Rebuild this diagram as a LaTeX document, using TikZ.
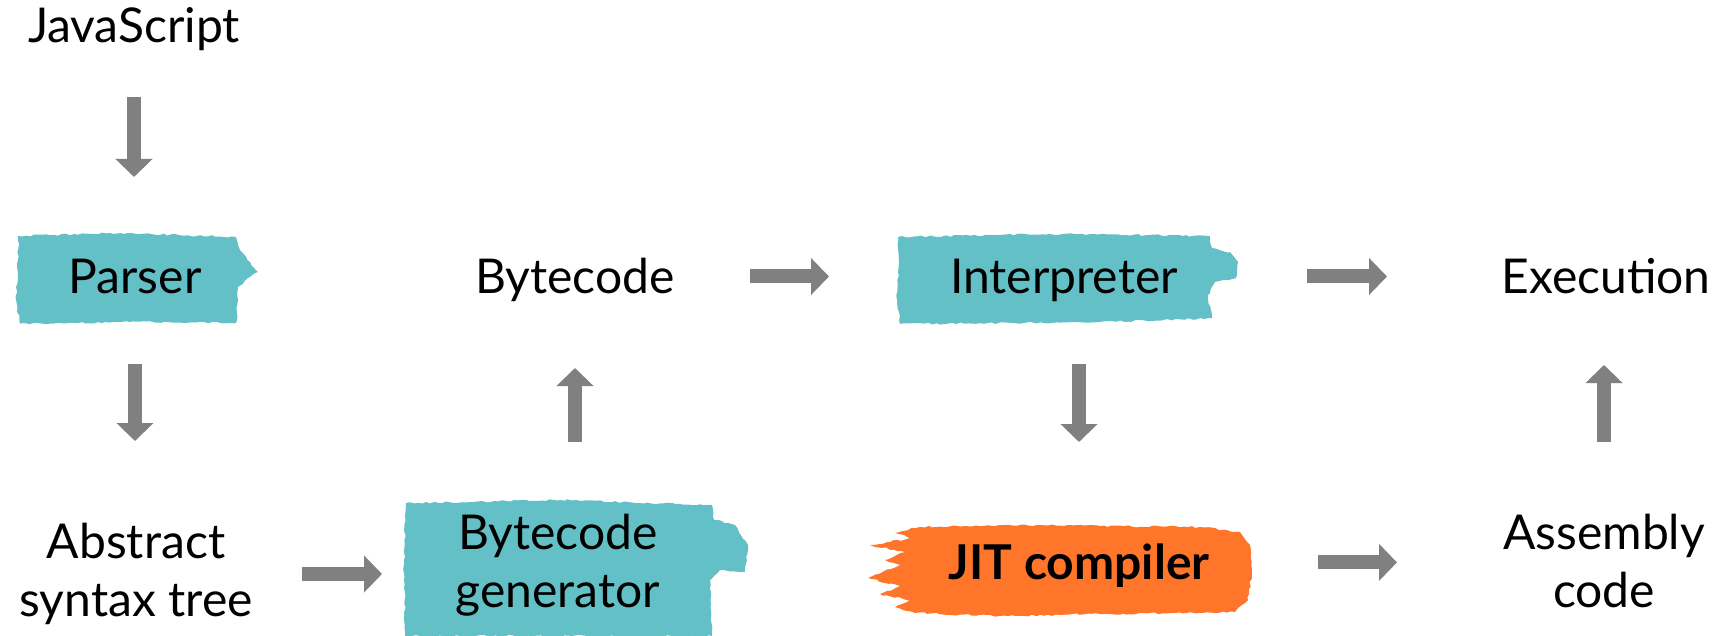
\documentclass[tikz,border=0pt]{standalone}
\usepackage{fontspec}
\setmainfont{Lato}
\usetikzlibrary{arrows.meta,decorations.pathmorphing,positioning}
\definecolor{brushteal}{RGB}{99,192,198}
\definecolor{brushorange}{RGB}{255,117,42}
\definecolor{arrowgrey}{RGB}{128,128,128}

\begin{document}
\begin{tikzpicture}[x=1pt, y=-1pt,
    stage/.style={font=\fontsize{48}{58}\selectfont, inner sep=0pt, text height=35pt, text depth=0pt},
    stagepair/.style={font=\fontsize{48}{58}\selectfont, inner sep=0pt, align=center, anchor=north},
    flow/.style={draw=arrowgrey, line width=14pt, -{Triangle[width=36pt,length=18pt]}},
    paint/.style={decorate, decoration={random steps, segment length=4pt, amplitude=1pt}}]
    \pgfmathsetseed{42}
    \useasboundingbox (0,0) rectangle (1721,636);

    % paint strokes behind the stages
    \fill[brushteal, paint] (18,236) -- (120,233) -- (236,237) -- (240,250) -- (250,262)
        -- (258,272) -- (248,278) -- (238,287) -- (238,300) -- (236,323) -- (130,322)
        -- (20,324) -- (16,300) -- (18,260) -- cycle;
    \fill[brushteal, paint] (898,237) -- (1050,234) -- (1210,236) -- (1212,248) -- (1230,252)
        -- (1238,262) -- (1236,278) -- (1215,282) -- (1208,295) -- (1212,318) -- (1100,322)
        -- (900,324) -- (897,300) -- (899,260) -- cycle;
    \fill[brushteal, paint] (406,503) -- (560,500) -- (712,505) -- (714,520) -- (735,525)
        -- (748,545) -- (745,572) -- (720,570) -- (710,580) -- (712,636) -- (405,636)
        -- (404,560) -- cycle;
    \fill[brushorange, paint] (920,527) -- (1000,525) -- (1100,526) -- (1200,527) -- (1240,532)
        -- (1250,545) -- (1252,570) -- (1248,600) -- (1235,612) -- (1100,614) -- (1000,616)
        -- (915,613) -- (895,607) -- (910,600) -- (880,594) -- (900,586) -- (868,578)
        -- (900,565) -- (885,560) -- (905,552) -- (870,545) -- (912,538) -- (895,533) -- cycle;

    \node (js) [stage] at (134,25.4) {JavaScript};
    \node (parser) [stage] at (135,276.5) {Parser};
    \node (ast) [stagepair] at (136,523) {Abstract\\syntax tree};
    \node (bgen) [stagepair] at (558,514) {Bytecode\\generator};
    \node (bytecode) [stage] at (575,276.5) {Bytecode};
    \node (interp) [stage] at (1064,276.5) {Interpreter};
    \node (exec) [stage] at (1606,276.5) {Execution};
    \node (jit) [stage, font=\fontsize{48}{58}\selectfont\bfseries] at (1079,562.4) {JIT compiler};
    \node (asm) [stagepair] at (1604,514) {Assembly\\code};

    \draw[flow, shorten <=71.6pt, shorten >=99.5pt] (js.center) -- (js |- parser);
    \draw[flow, shorten <=87.5pt, shorten >=82pt] (parser.center) -- (parser |- ast.north);
    \draw[flow, shorten <=166pt, shorten >=176pt] (ast.center) -- (ast -| bgen);
    \draw[flow, shorten <=72pt, shorten >=91.5pt] (bytecode |- bgen.north) -- (bytecode.center);
    \draw[flow, shorten <=175pt, shorten >=235pt] (bytecode.center) -- (interp.center);
    \draw[flow, shorten <=243pt, shorten >=219pt] (interp.center) -- (exec.center);
    \draw[flow, shorten <=87.5pt, shorten >=120.4pt] (jit |- interp) -- (jit.center);
    \draw[flow, shorten <=239pt, shorten >=207pt] (jit.center) -- (jit -| asm);
    \draw[flow, shorten <=72pt, shorten >=88.5pt] (asm.north) -- (asm |- exec);
\end{tikzpicture}
\end{document}
